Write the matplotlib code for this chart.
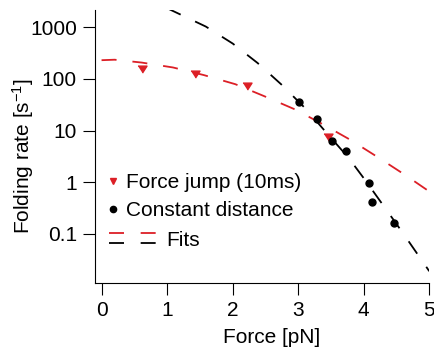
import matplotlib
matplotlib.use("Agg")
import matplotlib.pyplot as plt
from matplotlib.lines import Line2D
from matplotlib.legend_handler import HandlerBase

# ---- data ----
jump_force = [0.61, 1.43, 2.22, 3.46]
jump_rate = [157, 125, 72, 7.7]

const_force = [3.01, 3.28, 3.51, 3.73, 4.08, 4.13, 4.46]
const_rate = [35.9, 17.1, 6.3, 4.1, 0.95, 0.42, 0.165]

red_fit_force = [0.0, 0.2, 0.61, 1.09, 1.56, 2.04, 2.49, 2.95, 3.37, 3.79, 4.22, 4.63, 5.0]
red_fit_rate = [231, 236, 208, 167, 119, 79.3, 46, 25.8, 13.4, 6.7, 3.03, 1.39, 0.664]

black_fit_force = [1.0, 1.59, 2.0, 2.38, 2.74, 3.12, 3.40, 3.77, 4.02, 4.32, 4.60, 4.89, 5.0]
black_fit_rate = [2344, 1035, 486, 204, 78.9, 26.1, 10.1, 2.96, 1.11, 0.326, 0.103, 0.0303, 0.019]

x_ticks = [0, 1, 2, 3, 4, 5]
y_ticks = [0.1, 1, 10, 100, 1000]
y_tick_labels = ["0.1", "1", "10", "100", "1000"]

RED = "#dc1f26"
FS = 15

plt.rcParams['font.family'] = ['Liberation Sans', 'DejaVu Sans']
plt.rcParams['mathtext.default'] = 'regular'
plt.rcParams['lines.scale_dashes'] = False

fig = plt.figure(figsize=(4.34, 3.48), dpi=100)
ax = fig.add_axes([95 / 434, 1 - 283.3 / 348, (429.3 - 95) / 434, (283.3 - 10) / 348])

TRI = [(-1.0, 0.75), (1.0, 0.75), (0.0, -0.8)]
DASH = (10.8, 11.5)
ax.plot(red_fit_force, red_fit_rate, color=RED, lw=1.3, dashes=DASH, zorder=2)
ax.plot(black_fit_force, black_fit_rate, color="black", lw=1.3, dashes=DASH, zorder=2)
ax.plot(jump_force, jump_rate, ls="none", marker=TRI, ms=6.5, color=RED, zorder=3)
ax.plot(const_force, const_rate, ls="none", marker="o", ms=5.0, color="black", zorder=3)

ax.set_yscale("log")
ax.set_xlim(-0.1, 5.0)
ax.set_ylim(0.0111, 2163)
ax.set_xticks(x_ticks)
ax.set_yticks(y_ticks)
ax.set_yticklabels(y_tick_labels)
ax.yaxis.set_minor_locator(matplotlib.ticker.NullLocator())
ax.tick_params(direction="out", length=8.6, width=0.8, labelsize=FS, pad=4.5)
for s in ["top", "right"]:
    ax.spines[s].set_visible(False)
for s in ["left", "bottom"]:
    ax.spines[s].set_linewidth(0.8)

ax.set_xlabel("Force [pN]", fontsize=FS)
ax.set_ylabel("Folding rate [s$^{-1}$]", fontsize=FS)
ax.xaxis.set_label_coords(0.527, -0.165)
ax.yaxis.set_label_coords(-0.176, 0.466)


class HandlerStack(HandlerBase):
    def create_artists(self, legend, orig_handle, xdescent, ydescent,
                       width, height, fontsize, trans):
        arts = []
        offs = [3.6, -3.6]
        for h, off in zip(orig_handle, offs):
            y = height / 2 - ydescent + off
            l = Line2D([-xdescent, -xdescent + width], [y, y],
                       color=h.get_color(), lw=h.get_linewidth(),
                       dashes=(10.8, 12.0))
            l.set_transform(trans)
            arts.append(l)
        return arts


h1 = Line2D([], [], ls="none", marker="v", ms=5, color=RED)
h2 = Line2D([], [], ls="none", marker="o", ms=4.5, color="black")
leg1 = ax.legend([h1, h2], ["Force jump (10ms)", "Constant distance"],
                 loc="center left", bbox_to_anchor=(0.038, 0.317),
                 frameon=False, fontsize=FS, handlelength=0.5,
                 handletextpad=0.36, borderpad=0, borderaxespad=0,
                 labelspacing=0.42)
ax.add_artist(leg1)

f_red = Line2D([], [], color=RED, lw=1.3)
f_blk = Line2D([], [], color="black", lw=1.3)
leg2 = ax.legend([(f_red, f_blk)], ["Fits"], handler_map={tuple: HandlerStack()},
                 loc="center left", bbox_to_anchor=(0.041, 0.158),
                 frameon=False, fontsize=FS, handlelength=2.25,
                 handletextpad=0.5, borderpad=0, borderaxespad=0)

fig.savefig("out.png", dpi=100)
